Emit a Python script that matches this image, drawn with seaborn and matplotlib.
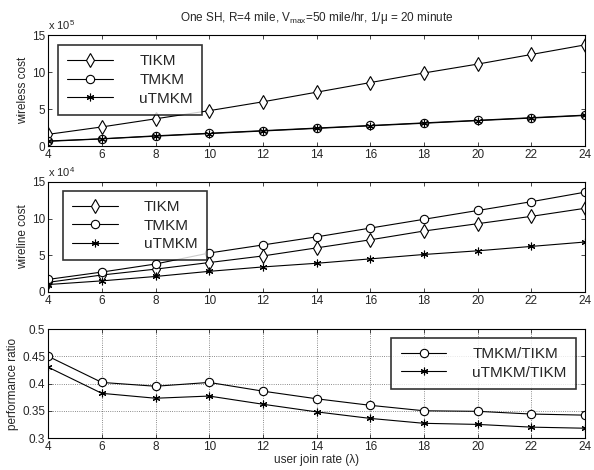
import numpy as np
import pandas as pd
import seaborn as sns
import matplotlib
matplotlib.use("Agg")
import matplotlib.pyplot as plt

# data
join_rate = [4, 6, 8, 10, 12, 14, 16, 18, 20, 22, 24]

# wireless cost (x 10^5)
wireless_tikm = [1.6, 2.6, 3.7, 4.8, 6.0, 7.3, 8.6, 9.9, 11.1, 12.4, 13.7]
wireless_tmkm = [0.7, 1.0, 1.4, 1.75, 2.1, 2.45, 2.8, 3.15, 3.5, 3.85, 4.2]
wireless_utmkm = [0.65, 0.98, 1.35, 1.7, 2.05, 2.4, 2.75, 3.1, 3.45, 3.8, 4.15]

# wireline cost (x 10^4)
wireline_tikm = [1.3, 2.3, 3.1, 4.0, 4.9, 6.0, 7.1, 8.3, 9.3, 10.3, 11.4]
wireline_tmkm = [1.7, 2.7, 3.8, 5.3, 6.4, 7.5, 8.7, 9.9, 11.1, 12.3, 13.6]
wireline_utmkm = [1.0, 1.5, 2.1, 2.8, 3.4, 3.9, 4.5, 5.1, 5.6, 6.2, 6.8]

# performance ratio
ratio_tmkm = [0.450, 0.402, 0.395, 0.402, 0.386, 0.372, 0.360, 0.350, 0.349, 0.344, 0.342]
ratio_utmkm = [0.430, 0.382, 0.373, 0.377, 0.362, 0.348, 0.336, 0.327, 0.325, 0.320, 0.318]

sns.set_theme(style="ticks")
plt.rcParams['font.family'] = ['Liberation Sans', 'DejaVu Sans']
plt.rcParams['mathtext.fontset'] = 'custom'
plt.rcParams['mathtext.rm'] = 'Liberation Sans'
plt.rcParams['mathtext.it'] = 'Liberation Sans'

markers = {'TIKM': 'd', 'TMKM': 'o', 'uTMKM': (6, 2, 0),
           'TMKM/TIKM': 'o', 'uTMKM/TIKM': (6, 2, 0)}
msizes = {'d': 7, 'o': 6}


def long_frame(series):
    rows = []
    for name, vals in series.items():
        for x, y in zip(join_rate, vals):
            rows.append({'rate': x, 'value': y, 'method': name})
    return pd.DataFrame(rows)


def draw(ax, series, legend_loc, bbox=None):
    df = long_frame(series)
    for name in series:
        sub = df[df['method'] == name]
        m = markers[name]
        sns.lineplot(data=sub, x='rate', y='value', ax=ax, color='black', lw=0.8,
                     marker=m, markersize=msizes.get(m, 5.5), markerfacecolor='white',
                     markeredgecolor='black', markeredgewidth=0.8, label=name)
    ax.set_xlim(4, 24)
    ax.set_xticks(join_rate)
    ax.tick_params(direction='in', top=True, right=True, labelsize=8.5, length=3,
                   width=0.6, pad=2)
    for s in ax.spines.values():
        s.set_linewidth(0.8)
        s.set_color('black')
    leg = ax.legend(loc=legend_loc, bbox_to_anchor=bbox, fontsize=11, handlelength=3.0,
                    handletextpad=1.7, labelspacing=0.3, borderpad=0.6,
                    borderaxespad=0, frameon=True, fancybox=False)
    leg.get_frame().set_edgecolor('black')
    leg.get_frame().set_linewidth(1.2)
    ax.set_xlabel('')


fig = plt.figure(figsize=(5.94, 4.7), dpi=100)
ax1 = fig.add_axes([0.081, 0.689, 0.904, 0.236])
ax2 = fig.add_axes([0.081, 0.379, 0.904, 0.234])
ax3 = fig.add_axes([0.081, 0.068, 0.904, 0.232])

draw(ax1, {'TIKM': wireless_tikm, 'TMKM': wireless_tmkm, 'uTMKM': wireless_utmkm},
     'upper left', (0.019, 0.91))
ax1.set_ylim(0, 15)
ax1.set_yticks([0, 5, 10, 15])
ax1.set_ylabel('wireless cost', fontsize=8.5, labelpad=2)
ax1.text(0.0, 1.03, r'x 10$^5$', transform=ax1.transAxes, fontsize=8, ha='left', va='bottom')
ax1.set_title(r'One SH, R=4 mile, V$_{\rm max}$=50 mile/hr, 1/$\mu$ = 20 minute',
              fontsize=8.5, pad=10)

draw(ax2, {'TIKM': wireline_tikm, 'TMKM': wireline_tmkm, 'uTMKM': wireline_utmkm},
     'upper left', (0.028, 0.918))
ax2.set_ylim(0, 15)
ax2.set_yticks([0, 5, 10, 15])
ax2.set_ylabel('wireline cost', fontsize=8.5, labelpad=2)
ax2.text(0.0, 1.03, r'x 10$^4$', transform=ax2.transAxes, fontsize=8, ha='left', va='bottom')

draw(ax3, {'TMKM/TIKM': ratio_tmkm, 'uTMKM/TIKM': ratio_utmkm}, 'upper right',
     (0.983, 0.917))
ax3.set_ylim(0.3, 0.5)
ax3.set_yticks([0.3, 0.35, 0.4, 0.45, 0.5])
ax3.set_yticklabels(['0.3', '0.35', '0.4', '0.45', '0.5'])
ax3.grid(True, linestyle=':', color='black', linewidth=0.6, alpha=0.6)
ax3.set_ylabel('performance ratio', fontsize=8.5, labelpad=2)
ax3.set_xlabel('user join rate (λ)', fontsize=8.5, labelpad=1)

fig.savefig('out.png', dpi=100)
